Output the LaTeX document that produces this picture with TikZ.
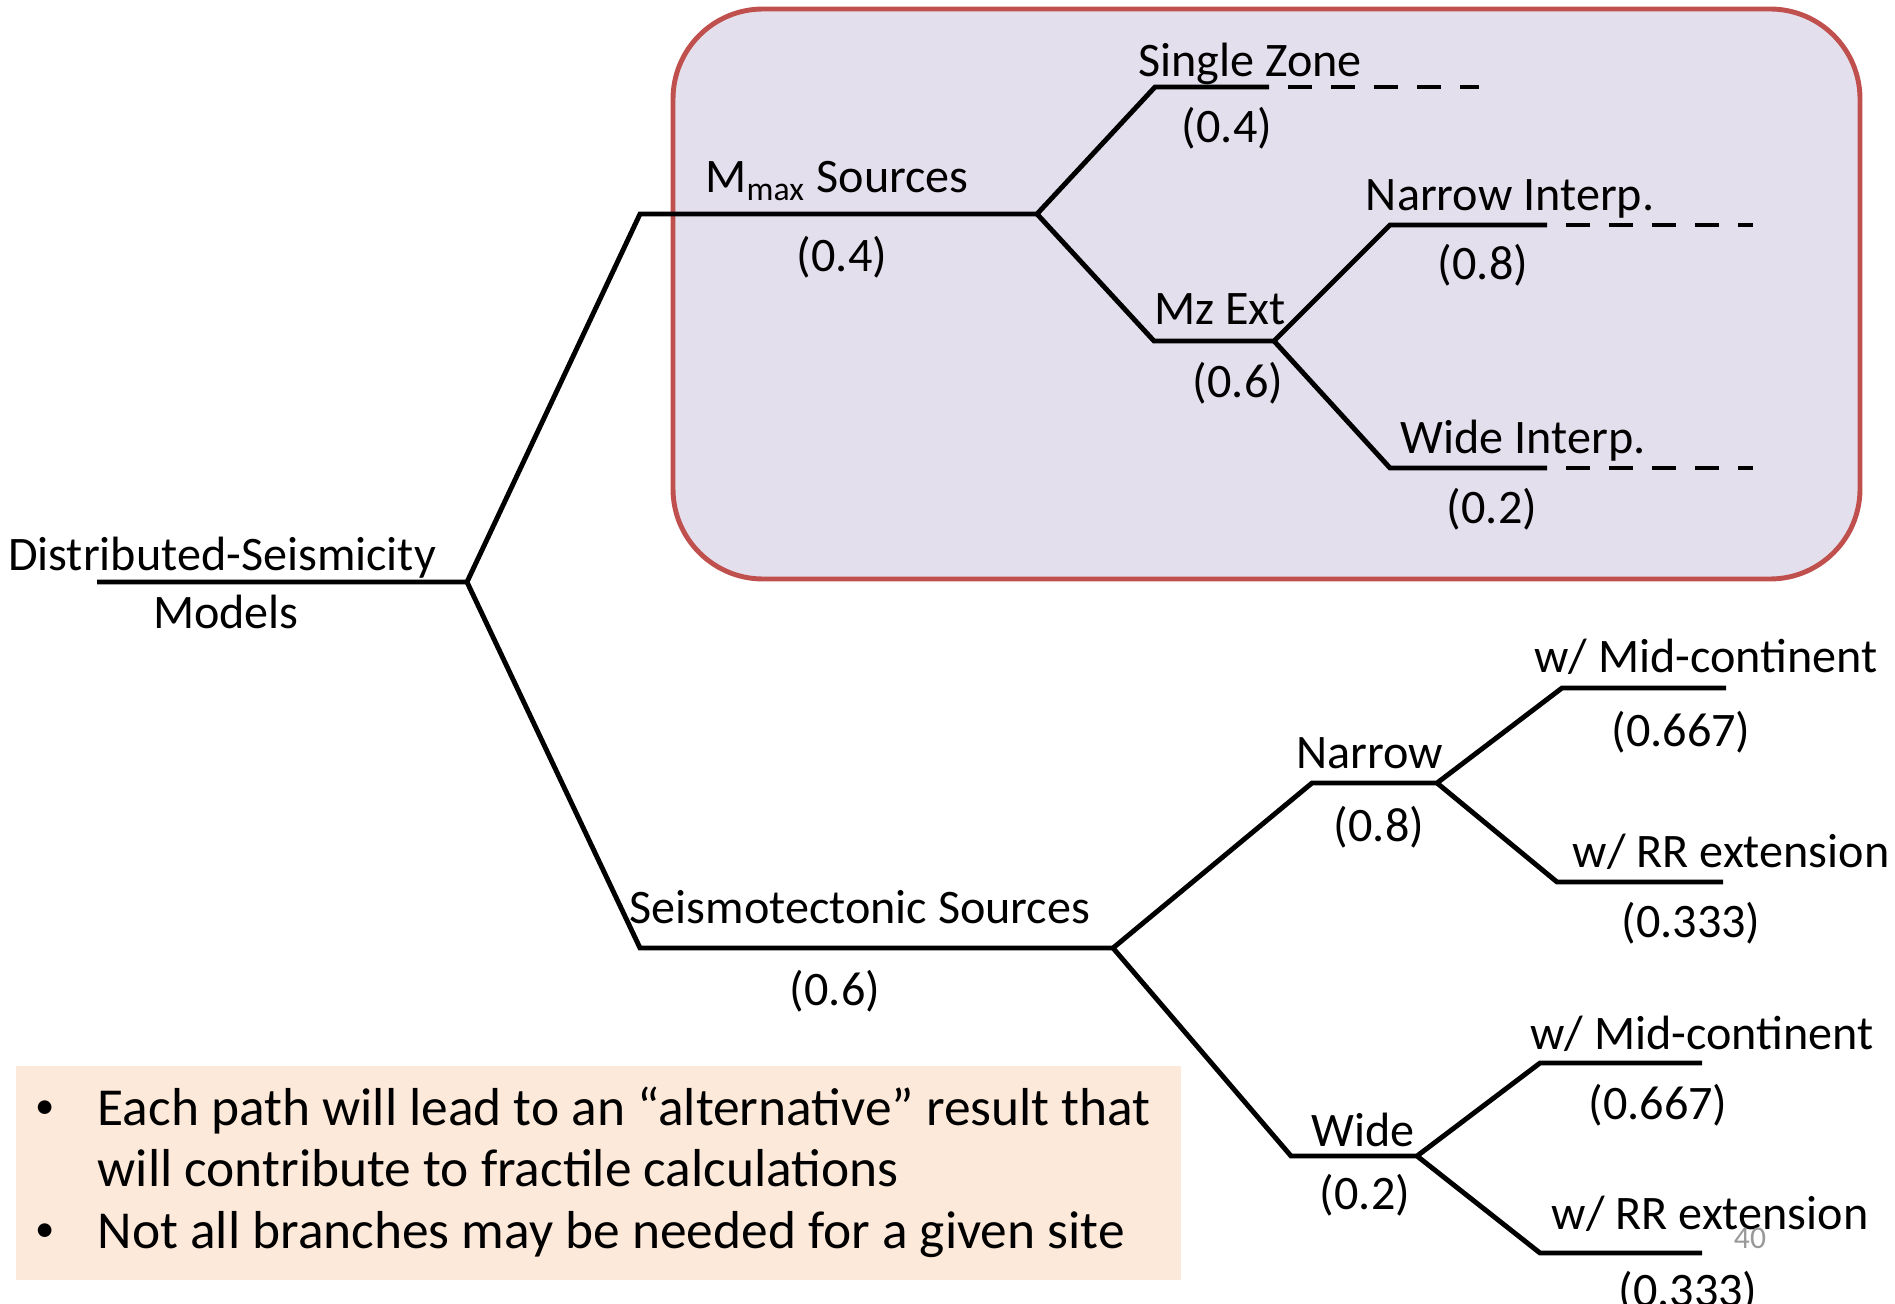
\documentclass[tikz,border=0pt]{standalone}
\usepackage{fontspec}
\setmainfont{Carlito}
\definecolor{boxfill}{HTML}{E4DFEC}
\definecolor{boxline}{HTML}{C0504D}
\definecolor{notefill}{HTML}{FDE9D9}

\begin{document}
\begin{tikzpicture}[x=0.1mm,y=-0.1mm,
  branch/.style={line width=1.4pt},
  dashbranch/.style={line width=1.4pt,dash pattern=on 0.24cm off 0.19cm,dash phase=0.24cm},
  lbl/.style={anchor=base,inner sep=0pt,font=\fontsize{13.7}{16}\selectfont},
  prob/.style={inner sep=0pt,font=\fontsize{13.7}{16}\selectfont},
  note/.style={anchor=base west,inner sep=0pt,font=\fontsize{15.2}{18}\selectfont}]
\useasboundingbox (0,0) rectangle (1895,1304);

% M max box
\draw[boxline,fill=boxfill,line width=1.4pt,rounded corners=0.9cm] (673,9) rectangle (1860,579);

% notes box
\fill[notefill] (16,1066) rectangle (1181,1280);

% branch points
\coordinate (r0) at (97,582);
\coordinate (r) at (467,582);
\coordinate (m0) at (640,214);
\coordinate (m) at (1037,214);
\coordinate (sz0) at (1155,87);
\coordinate (sz) at (1269,87);
\coordinate (sz1) at (1479,87);
\coordinate (mz0) at (1154,341);
\coordinate (mz) at (1274,341);
\coordinate (ni0) at (1390,225);
\coordinate (ni) at (1547,225);
\coordinate (ni1) at (1753,225);
\coordinate (wi0) at (1390,468);
\coordinate (wi) at (1547,468);
\coordinate (wi1) at (1753,468);
\coordinate (st0) at (640,948);
\coordinate (st) at (1113,948);
\coordinate (na0) at (1312,783);
\coordinate (na) at (1437,783);
\coordinate (mc10) at (1562,688);
\coordinate (mc1) at (1726,688);
\coordinate (rr10) at (1557,882);
\coordinate (rr1) at (1723,882);
\coordinate (wd0) at (1291,1156);
\coordinate (wd) at (1417,1156);
\coordinate (mc20) at (1540,1063);
\coordinate (mc2) at (1702,1063);
\coordinate (rr20) at (1540,1253);
\coordinate (rr2) at (1702,1253);

% tree
\draw[branch] (r0) -- (r) -- (m0) -- (m) -- (sz0) -- (sz);
\draw[branch] (m) -- (mz0) -- (mz) -- (ni0) -- (ni);
\draw[branch] (mz) -- (wi0) -- (wi);
\draw[dashbranch] (sz) -- (sz1);
\draw[dashbranch] (ni) -- (ni1);
\draw[dashbranch] (wi) -- (wi1);
\draw[branch] (r) -- (st0) -- (st) -- (na0) -- (na) -- (mc10) -- (mc1);
\draw[branch] (na) -- (rr10) -- (rr1);
\draw[branch] (st) -- (wd0) -- (wd) -- (mc20) -- (mc2);
\draw[branch] (wd) -- (rr20) -- (rr2);

% labels
\node[lbl] (rootl) at (222,570) {Distributed-Seismicity};
\node[lbl] (rootl2) at (226,628) {Models};
\node[lbl] (mmaxl) at (837,193) {M\textsubscript{max} Sources};
\node[prob] (mmaxp) at (842,257) {(0.4)};
\node[lbl] (szl) at (1250,77) {Single Zone};
\node[prob] (szp) at (1227,128) {(0.4)};
\node[lbl] (mzl) at (1220,325) {Mz Ext};
\node[prob] (mzp) at (1238,383) {(0.6)};
\node[lbl] (nil) at (1510,211) {Narrow Interp.};
\node[prob] (nip) at (1483,265) {(0.8)};
\node[lbl] (wil) at (1523,454) {Wide Interp.};
\node[prob] (wip) at (1492,509) {(0.2)};
\node[lbl] (stl) at (860,923) {Seismotectonic Sources};
\node[prob] (stp) at (835,991) {(0.6)};
\node[lbl] (nal) at (1370,768) {Narrow};
\node[prob] (nap) at (1379,827) {(0.8)};
\node[lbl] (mc1l) at (1706,672) {w/ Mid-continent};
\node[prob] (mc1p) at (1681,732) {(0.667)};
\node[lbl] (rr1l) at (1731,867) {w/ RR extension};
\node[prob] (rr1p) at (1691,923) {(0.333)};
\node[lbl] (wdl) at (1363,1146) {Wide};
\node[prob] (wdp) at (1365,1195) {(0.2)};
\node[lbl] (mc2l) at (1702,1049) {w/ Mid-continent};
\node[prob] (mc2p) at (1658,1105) {(0.667)};
\node[lbl] (rr2l) at (1710,1229) {w/ RR extension};
\node[prob] (rr2p) at (1688,1292) {(0.333)};
\node[inner sep=0pt,text=black!40,font=\fontsize{9}{10}\selectfont] (page) at (1750,1238) {40};

% notes
\node[inner sep=0pt,font=\fontsize{11}{12}\selectfont] (b1) at (45,1110) {•};
\node[note] (n1) at (97,1125) {Each path will lead to an “alternative” result that};
\node[note] (n2) at (97,1186) {will contribute to fractile calculations};
\node[inner sep=0pt,font=\fontsize{11}{12}\selectfont] (b2) at (45,1233) {•};
\node[note] (n3) at (97,1248) {Not all branches may be needed for a given site};
\end{tikzpicture}
\end{document}
